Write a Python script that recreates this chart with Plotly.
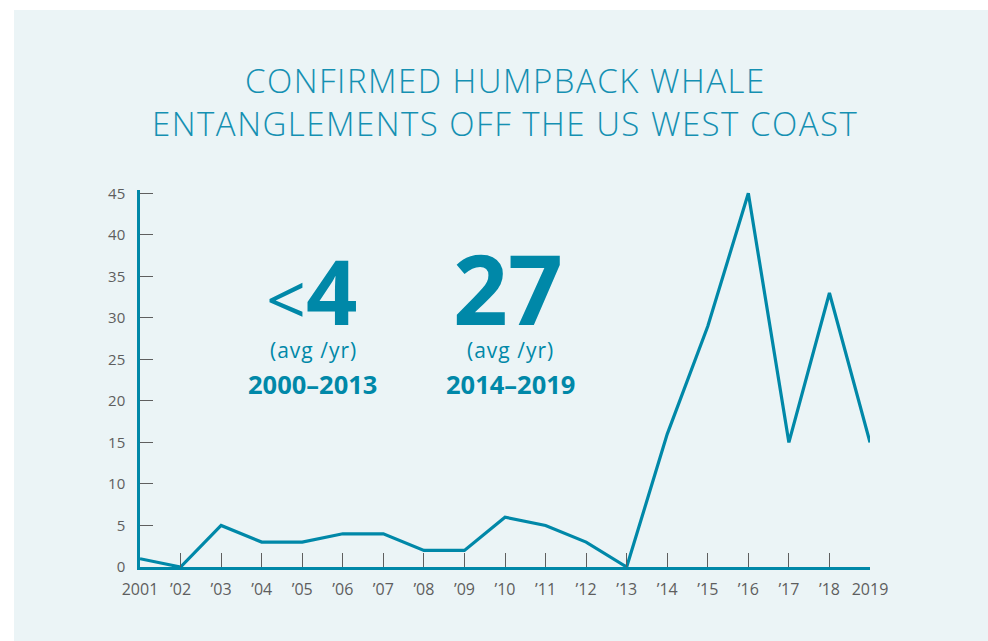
import plotly.graph_objects as go

years = list(range(2001, 2020))
entanglements = [1, 0, 5, 3, 3, 4, 4, 2, 2, 6, 5, 3, 0, 16, 29, 45, 15, 33, 15]
x_tick_labels = ["2001", "\u201902", "\u201903", "\u201904", "\u201905", "\u201906", "\u201907",
                 "\u201908", "\u201909", "\u201910", "\u201911", "\u201912", "\u201913", "\u201914",
                 "\u201915", "\u201916", "\u201917", "\u201918", "2019"]
y_ticks = [0, 5, 10, 15, 20, 25, 30, 35, 40, 45]

TEAL = "#0088a8"
TITLE_TEAL = "#1590b2"
GRAY = "#5e5e5e"
PANEL = "#ebf4f6"
FONT = "Open Sans"

W, H = 988, 641
L, R, T, B = 140, 118, 190, 74
pw, ph = W - L - R, H - T - B

def px(x):
    return (x - L) / pw

def py(y):
    return (H - B - y) / ph

fig = go.Figure()
fig.add_trace(go.Scatter(
    x=years, y=entanglements, mode="lines",
    line=dict(color=TEAL, width=3.2), hoverinfo="x+y", showlegend=False,
))

fig.add_shape(type="rect", xref="paper", yref="paper",
              x0=px(14), x1=px(1000), y0=py(660), y1=py(10),
              fillcolor=PANEL, line=dict(width=0), layer="below")

def ls(text, sp):
    return '<span style="letter-spacing:%spx">%s</span>' % (sp, text)

annots = [
    dict(text=ls("CONFIRMED HUMPBACK WHALE", 1.5), x=px(505), y=py(80), size=33, color=TITLE_TEAL, weight=300),
    dict(text=ls("ENTANGLEMENTS OFF THE US WEST COAST", 1.5), x=px(505), y=py(123), size=33, color=TITLE_TEAL, weight=300),
    dict(text='<span style="font-size:70px;font-weight:400">&lt;</span><b>4</b>', x=px(312), y=py(290), size=90, color=TEAL, weight=400),
    dict(text="<b>27</b>", x=px(508), y=py(287), size=96, color=TEAL, weight=400),
    dict(text=ls("(avg /yr)", 1), x=px(313), y=py(350), size=21, color=TEAL, weight=400),
    dict(text=ls("(avg /yr)", 1), x=px(510), y=py(350), size=21, color=TEAL, weight=400),
    dict(text="<b>2000\u20132013</b>", x=px(312), y=py(384), size=25.5, color=TEAL, weight=400),
    dict(text="<b>2014\u20132019</b>", x=px(510), y=py(384), size=25.5, color=TEAL, weight=400),
]
for a in annots:
    fig.add_annotation(text=a["text"], x=a["x"], y=a["y"], xref="paper", yref="paper",
                       xanchor="center", yanchor="middle", showarrow=False,
                       font=dict(family=FONT, size=a["size"], color=a["color"], weight=a["weight"]))

fig.update_layout(
    width=W, height=H,
    margin=dict(l=L, r=R, t=T, b=B),
    paper_bgcolor="white", plot_bgcolor=PANEL,
    font=dict(family=FONT, color=GRAY),
    xaxis=dict(range=[2001, 2019], tickmode="array", tickvals=years, ticktext=x_tick_labels,
               showgrid=False, zeroline=False, showline=True, linecolor=TEAL, linewidth=2.5,
               ticks="inside", ticklen=14, tickcolor=GRAY, tickwidth=1, ticklabelstandoff=6,
               tickfont=dict(family=FONT, size=16, color=GRAY)),
    yaxis=dict(range=[0, 45.4], tickmode="array", tickvals=y_ticks,
               showgrid=False, zeroline=False, showline=True, linecolor=TEAL, linewidth=2.5,
               ticks="inside", ticklen=13, tickcolor=GRAY, tickwidth=1, ticklabelstandoff=9,
               tickfont=dict(family=FONT, size=15, color=GRAY)),
)

fig.write_html("out.html", config={"displayModeBar": False},
               post_script="document.body.style.margin='0';document.body.style.overflow='hidden';")
